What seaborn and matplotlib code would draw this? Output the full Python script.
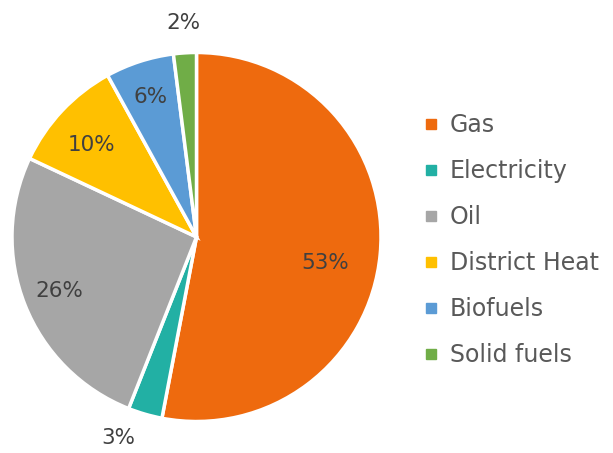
import numpy as np
import matplotlib
matplotlib.use("Agg")
import matplotlib.pyplot as plt
import seaborn as sns
from matplotlib.lines import Line2D

sns.set_theme(style="white")
plt.rcParams["font.family"] = ["DejaVu Sans"]

# Share of final energy use by fuel
categories = ["Gas", "Electricity", "Oil", "District Heat", "Biofuels", "Solid fuels"]
shares = [53, 3, 26, 10, 6, 2]
colors = ["#EE6A0E", "#22B0A4", "#A6A6A6", "#FFC000", "#5B9BD5", "#70AD47"]

# radial position of each percentage label (fraction of the pie radius)
label_radius = [0.71, 1.17, 0.80, 0.755, 0.80, 1.16]
label_angle_shift = [-6, -5, 0, 2, 0, 0]

fig = plt.figure(figsize=(6.13, 4.53), dpi=100)
W, H = 613, 453
cx, cy, R = 196.5, 237, 184.5
ax = fig.add_axes([(cx - R) / W, (H - cy - R) / H, 2 * R / W, 2 * R / H])

wedges, _ = ax.pie(
    shares,
    colors=colors,
    startangle=90,
    counterclock=False,
    radius=1.0,
    wedgeprops=dict(edgecolor="white", linewidth=2.5),
)
ax.set_xlim(-1, 1)
ax.set_ylim(-1, 1)
ax.set_aspect("equal")
ax.axis("off")

total = sum(shares)
cum = np.cumsum([0] + shares)
for i, v in enumerate(shares):
    mid = (cum[i] + cum[i + 1]) / 2 / total
    ang = np.deg2rad(90 - mid * 360 + label_angle_shift[i])
    r = label_radius[i]
    ax.text(r * np.cos(ang), r * np.sin(ang), f"{v}%",
            ha="center", va="center", fontsize=15.5, color="#404040")

handles = [Line2D([0], [0], marker="s", linestyle="", markersize=6.5,
                  markerfacecolor=c, markeredgecolor=c) for c in colors]
fig.legend(handles, categories, loc="center left",
           bbox_to_anchor=(400 / W, 1 - 240 / H), frameon=False,
           fontsize=17, labelcolor="#595959", handlelength=0.8,
           handletextpad=0.4, labelspacing=0.93)

fig.savefig("out.png", dpi=100, facecolor="white")
